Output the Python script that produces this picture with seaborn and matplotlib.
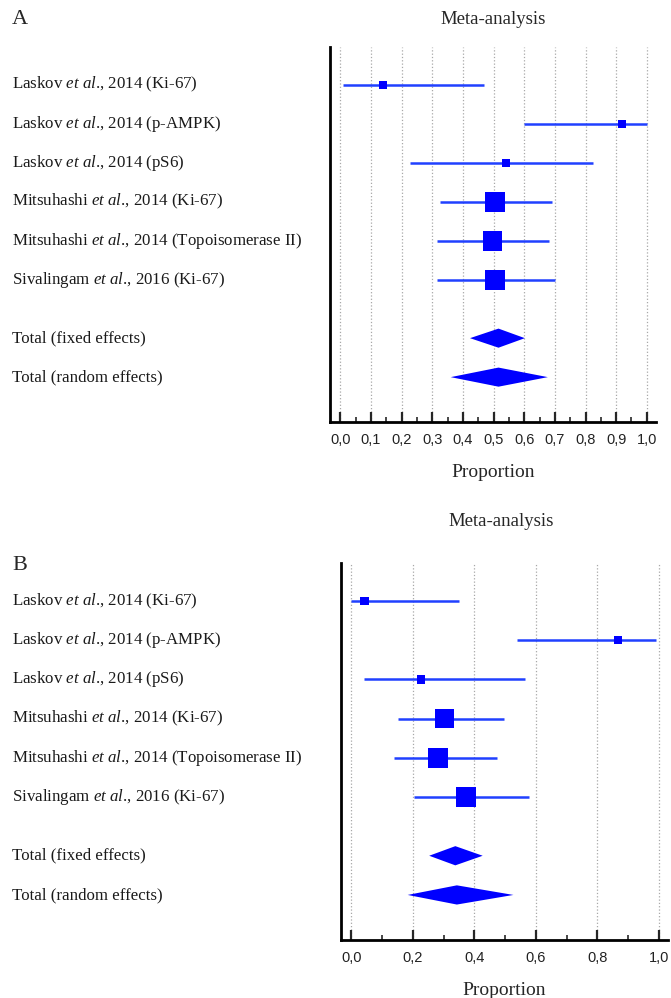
import matplotlib
matplotlib.use("Agg")
import matplotlib.pyplot as plt
import matplotlib.transforms as mtransforms
from matplotlib.ticker import MultipleLocator
import pandas as pd
import seaborn as sns

# Study labels (same for both panels)
studies = [
    "Laskov $\\mathit{et\\ al}$., 2014 (Ki-67)",
    "Laskov $\\mathit{et\\ al}$., 2014 (p-AMPK)",
    "Laskov $\\mathit{et\\ al}$., 2014 (pS6)",
    "Mitsuhashi $\\mathit{et\\ al}$., 2014 (Ki-67)",
    "Mitsuhashi $\\mathit{et\\ al}$., 2014 (Topoisomerase II)",
    "Sivalingam $\\mathit{et\\ al}$., 2016 (Ki-67)",
]
total_labels = ["Total (fixed effects)", "Total (random effects)"]

# Panel A: proportion with 95% CI
prop_a = [0.14, 0.92, 0.54, 0.505, 0.497, 0.505]
low_a = [0.01, 0.60, 0.228, 0.325, 0.314, 0.314]
high_a = [0.47, 1.00, 0.826, 0.692, 0.682, 0.70]
weight_a = [1, 1, 1, 5, 5, 5]
fixed_a = [0.516, 0.423, 0.602]    # estimate, low, high
random_a = [0.516, 0.36, 0.677]
ticks_a = [0.0, 0.1, 0.2, 0.3, 0.4, 0.5, 0.6, 0.7, 0.8, 0.9, 1.0]
ticklabels_a = ["0,0", "0,1", "0,2", "0,3", "0,4", "0,5", "0,6", "0,7", "0,8", "0,9", "1,0"]

# Panel B
prop_b = [0.042, 0.868, 0.226, 0.303, 0.282, 0.373]
low_b = [0.0, 0.54, 0.04, 0.15, 0.137, 0.202]
high_b = [0.35, 0.99, 0.565, 0.495, 0.475, 0.577]
weight_b = [1, 1, 1, 5, 5, 5]
fixed_b = [0.338, 0.253, 0.427]
random_b = [0.343, 0.183, 0.527]
ticks_b = [0.0, 0.2, 0.4, 0.6, 0.8, 1.0]
ticklabels_b = ["0,0", "0,2", "0,4", "0,6", "0,8", "1,0"]

sns.set_style("white")
plt.rcParams["font.family"] = ["Liberation Serif", "DejaVu Serif"]
plt.rcParams["mathtext.fontset"] = "custom"
plt.rcParams["mathtext.rm"] = "Liberation Serif"
plt.rcParams["mathtext.it"] = "Liberation Serif:italic"

blue = "#0000ff"
line_blue = "#2040ff"

fig = plt.figure(figsize=(6.71, 9.98), dpi=100)


def forest(ax, prop, low, high, weight, fixed, random, ticks, ticklabels, minor_step):
    rows = list(range(len(prop)))
    df = pd.DataFrame({"prop": prop, "low": low, "high": high, "weight": weight, "row": rows})
    ax.hlines(df["row"], df["low"], df["high"], color=line_blue, lw=1.8, zorder=2)
    sns.scatterplot(data=df, x="prop", y="row", size="weight", sizes=(36, 200), marker="s",
                    color=blue, linewidth=0, legend=False, ax=ax, zorder=3)
    total_rows = [len(prop) + 0.5, len(prop) + 1.5]
    h = 0.245
    for (est, lo, hi), y in zip([fixed, random], total_rows):
        ax.fill([lo, est, hi, est], [y, y - h, y, y + h], color=blue, lw=0, zorder=3)

    ax.set_xlim(-0.034, 1.03)
    ax.set_ylim(8.65, -0.97)
    ax.set_yticks([])
    ax.set_xticks(ticks)
    ax.set_xticklabels(ticklabels, family=["Liberation Sans"], fontsize=10.5, color="#222222")
    ax.xaxis.set_minor_locator(MultipleLocator(minor_step))
    ax.tick_params(axis="x", which="major", direction="in", length=7, width=1.6, pad=8, bottom=True)
    ax.tick_params(axis="x", which="minor", direction="in", length=3.5, width=1.2, bottom=True)
    ax.grid(axis="x", which="major", linestyle=":", color="#a8a8a8", lw=0.9)
    ax.set_axisbelow(True)
    for side in ["top", "right"]:
        ax.spines[side].set_visible(False)
    for side in ["left", "bottom"]:
        ax.spines[side].set_linewidth(2)
        ax.spines[side].set_color("black")
    ax.set_ylabel("")
    ax.set_xlabel("Proportion", fontsize=14, labelpad=12)

    trans = mtransforms.blended_transform_factory(fig.transFigure, ax.transData)
    for label, y in zip(studies + total_labels, rows + total_rows):
        ax.text(12 / 671, y, label, transform=trans, fontsize=12.2, va="center", ha="left",
                color="#1a1a1a")


ax_a = fig.add_axes([0.4918, 0.5772, 0.4858, 0.3757])
forest(ax_a, prop_a, low_a, high_a, weight_a, fixed_a, random_a, ticks_a, ticklabels_a, 0.05)
fig.text(12 / 671, 1 - 20 / 998, "A", fontsize=16, va="center", ha="left")
fig.text(493 / 671, 1 - 20 / 998, "Meta-analysis", fontsize=13.5, va="center", ha="center")

ax_b = fig.add_axes([0.5082, 0.0581, 0.4873, 0.3778])
forest(ax_b, prop_b, low_b, high_b, weight_b, fixed_b, random_b, ticks_b, ticklabels_b, 0.1)
fig.text(12 / 671, 1 - 566 / 998, "B", fontsize=16, va="center", ha="left")
fig.text(501 / 671, 1 - 521 / 998, "Meta-analysis", fontsize=13.5, va="center", ha="center")

fig.savefig("out.png", dpi=100)
